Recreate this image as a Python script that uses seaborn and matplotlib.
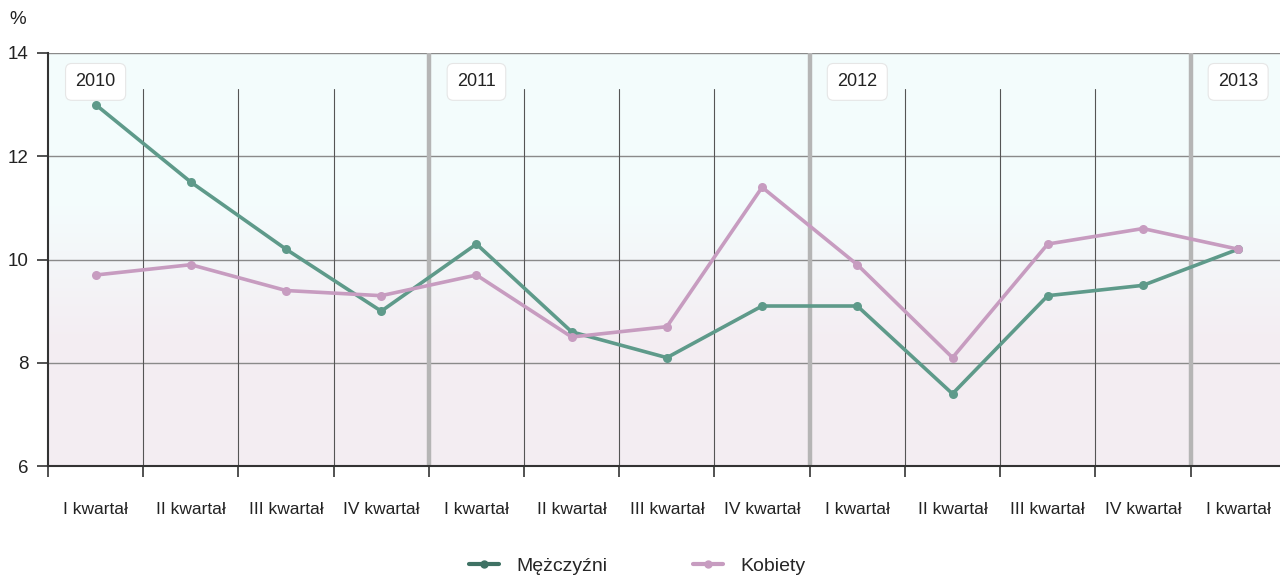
import numpy as np
import pandas as pd
import matplotlib
matplotlib.use("Agg")
import matplotlib.pyplot as plt
import seaborn as sns
from matplotlib.lines import Line2D

quarters = ["I kwartał", "II kwartał", "III kwartał", "IV kwartał",
            "I kwartał", "II kwartał", "III kwartał", "IV kwartał",
            "I kwartał", "II kwartał", "III kwartał", "IV kwartał",
            "I kwartał"]
years = ["2010", "2011", "2012", "2013"]
year_start_idx = [0, 4, 8, 12]
men = [13.0, 11.5, 10.2, 9.0, 10.3, 8.6, 8.1, 9.1, 9.1, 7.4, 9.3, 9.5, 10.2]
women = [9.7, 9.9, 9.4, 9.3, 9.7, 8.5, 8.7, 11.4, 9.9, 8.1, 10.3, 10.6, 10.2]
series_names = ["Mężczyźni", "Kobiety"]
yticks = [6, 8, 10, 12, 14]

sns.set_theme(style="white")
plt.rcParams["font.family"] = ["Liberation Sans", "DejaVu Sans"]

x = np.arange(len(quarters)) + 0.5
df = pd.DataFrame({
    "x": np.concatenate([x, x]),
    "val": men + women,
    "series": [series_names[0]] * len(men) + [series_names[1]] * len(women),
})

fig = plt.figure(figsize=(12.8, 5.79), dpi=100)
ax = fig.add_axes([0.0375, 0.195, 0.967, 0.7135])

# background gradient
grad = np.linspace(0, 1, 256).reshape(-1, 1)
top_c = np.array([0.953, 0.992, 0.992])
bot_c = np.array([0.955, 0.930, 0.950])
w = np.clip((grad - 0.3) / 0.35, 0, 1)
img = (bot_c * (1 - w) + top_c * w).reshape(256, 1, 3)
ax.imshow(img, extent=[0, 13, 6, 14], origin="lower", aspect="auto", zorder=0)

ax.set_xlim(0, 13)
ax.set_ylim(6, 14)

for yv in [8, 10, 12, 14]:
    ax.axhline(yv, color="#8a8a8a", lw=1.0, zorder=1)

for b in range(1, 13):
    if b in year_start_idx:
        ax.axvline(b, color="#b5b5b5", lw=3.2, zorder=1)
    else:
        ax.plot([b, b], [6, 13.3], color="#555555", lw=0.8, zorder=1)

palette = {series_names[0]: "#5e9a8a", series_names[1]: "#c79cc0"}
sns.lineplot(data=df, x="x", y="val", hue="series", palette=palette, marker="o",
             markersize=6.5, markeredgewidth=0, linewidth=2.6, ax=ax, legend=False,
             zorder=3)

for yr, i in zip(years, year_start_idx):
    ax.text(i + 0.5, 13.44, yr, ha="center", va="center", fontsize=13, color="#222222",
            bbox=dict(boxstyle="round,pad=0.55,rounding_size=0.35", fc="white",
                      ec="#e6e6e6", lw=0.8), zorder=5)

ax.set_xticks(range(0, 14))
ax.set_xticklabels([])
ax.set_xticks(x, minor=True)
ax.set_xticklabels(quarters, minor=True, fontsize=12.5, color="#222222")
ax.tick_params(axis="x", which="major", length=8, width=1.2, color="#333333", direction="out", bottom=True)
ax.tick_params(axis="x", which="minor", length=0, pad=26)
ax.set_yticks(yticks)
ax.set_yticklabels([str(v) for v in yticks], fontsize=13.5, color="#222222")
ax.tick_params(axis="y", length=8, width=1.2, color="#333333", left=True, pad=6)
ax.set_xlabel("")
ax.set_ylabel("")

for s in ["top", "right"]:
    ax.spines[s].set_visible(False)
ax.spines["left"].set_color("#333333")
ax.spines["left"].set_linewidth(1.5)
ax.spines["bottom"].set_color("#333333")
ax.spines["bottom"].set_linewidth(1.5)

fig.text(18 / 1280, 1 - 20 / 579, "%", fontsize=13.5, color="#222222", ha="center", va="center")

handles = [Line2D([], [], color="#3f7264", lw=3, marker="o", markersize=5),
           Line2D([], [], color="#c79cc0", lw=3, marker="o", markersize=5)]
fig.legend(handles, series_names, loc="center", bbox_to_anchor=(0.498, 1 - 566 / 579),
           ncol=2, frameon=False, fontsize=14, handlelength=1.55, columnspacing=4.4,
           handletextpad=0.9)

fig.savefig("out.png", dpi=100)
